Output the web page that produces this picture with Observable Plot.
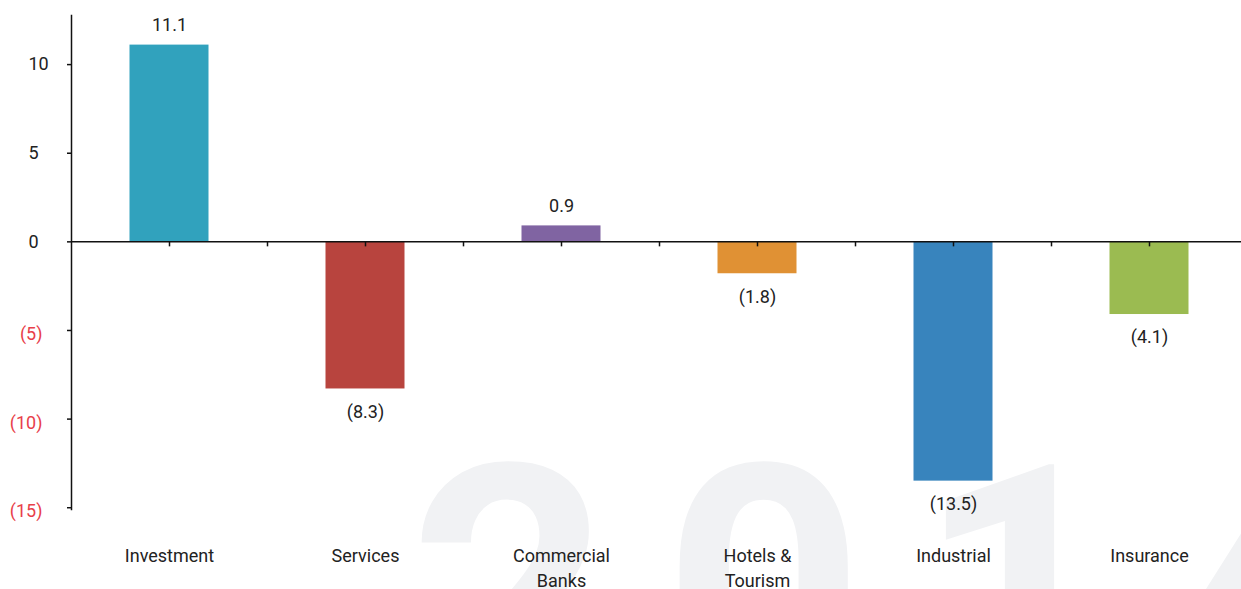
<!DOCTYPE html>
<html><head><meta charset="utf-8">
<script src="https://cdn.jsdelivr.net/npm/d3@7"></script>
<script src="https://cdn.jsdelivr.net/npm/@observablehq/plot@0.6"></script>
<style>html,body{margin:0;padding:0;background:#fff;overflow:hidden}</style>
</head><body><div id="chart"></div>
<script>
const categories = ["Investment", "Services", "Commercial\nBanks", "Hotels &\nTourism", "Industrial", "Insurance"];
const values = [11.1, -8.3, 0.9, -1.8, -13.5, -4.1];
const colors = ["#31a2bd", "#b8443e", "#8064a2", "#e09134", "#3884bd", "#9bbb51"];
const positiveTicks = [0, 5, 10];
const negativeTicks = [-5, -10, -15];
const watermark = "2014";

const data = categories.map((c, i) => ({category: c, value: values[i], color: colors[i]}));
const fmt = v => v < 0 ? `(${Math.abs(v)})` : `${v}`;

const W = 1241, H = 589, mL = 71, mR = -6, mT = 15, mB = 80;
const step = (W - mL - mR) / categories.length;

const chart = Plot.plot({
  width: W, height: H,
  marginLeft: mL, marginRight: mR, marginTop: mT, marginBottom: mB,
  style: {fontFamily: "Roboto, sans-serif", fontSize: "18px", color: "#222", background: "#fff", overflow: "hidden"},
  x: {domain: categories, padding: 0, label: null},
  y: {domain: [-15.1, 12.77], label: null},
  color: {type: "identity"},
  marks: [
    Plot.text([watermark], {frameAnchor: "bottom-left", textAnchor: "start", lineAnchor: "bottom",
      dx: 338, dy: 204, fontSize: 350, fontWeight: 700, fill: "#f1f2f4"}),
    Plot.barY(data, {x: "category", y: "value", fill: "color", insetLeft: 58.5, insetRight: 58.5}),
    Plot.ruleY([0], {stroke: "#111", strokeWidth: 1.5}),
    Plot.ruleX(categories, {x: d => d, y1: 0, y2: 0, insetBottom: -5, stroke: "#111", strokeWidth: 1.5}),
    Plot.ruleX(categories.slice(0, -1), {x: d => d, y1: 0, y2: 0, insetBottom: -5, dx: step / 2, stroke: "#111", strokeWidth: 1.5}),
    Plot.frame({anchor: "left", stroke: "#111", strokeWidth: 1.5}),
    Plot.axisY([...negativeTicks, ...positiveTicks], {anchor: "left", tickSize: 4, tickFormat: () => "", stroke: "#111", strokeWidth: 1.5, label: null}),
    Plot.axisY(positiveTicks, {anchor: "left", tickSize: 0, tickPadding: 43, textAnchor: "start", tickFormat: fmt, fill: "#222", fontSize: 18, label: null}),
    Plot.axisY(negativeTicks, {anchor: "left", tickSize: 0, tickPadding: 29, tickFormat: fmt, fill: "#e8404a", fontSize: 18, dy: 4, label: null}),
    Plot.axisX({anchor: "bottom", tickSize: 0, tickPadding: 35, lineHeight: 1.38, fill: "#222", fontSize: 18, label: null}),
    Plot.text(data, {filter: d => d.value >= 0, x: "category", y: "value", text: d => fmt(d.value), dy: -20, fill: "#222", fontSize: 18}),
    Plot.text(data, {filter: d => d.value < 0, x: "category", y: "value", text: d => fmt(d.value), dy: 23, fill: "#222", fontSize: 18})
  ]
});
chart.querySelectorAll("text").forEach(t => {
  if (t.textContent === watermark) t.style.letterSpacing = "53px";
});
document.getElementById("chart").appendChild(chart);
</script>
</body></html>
